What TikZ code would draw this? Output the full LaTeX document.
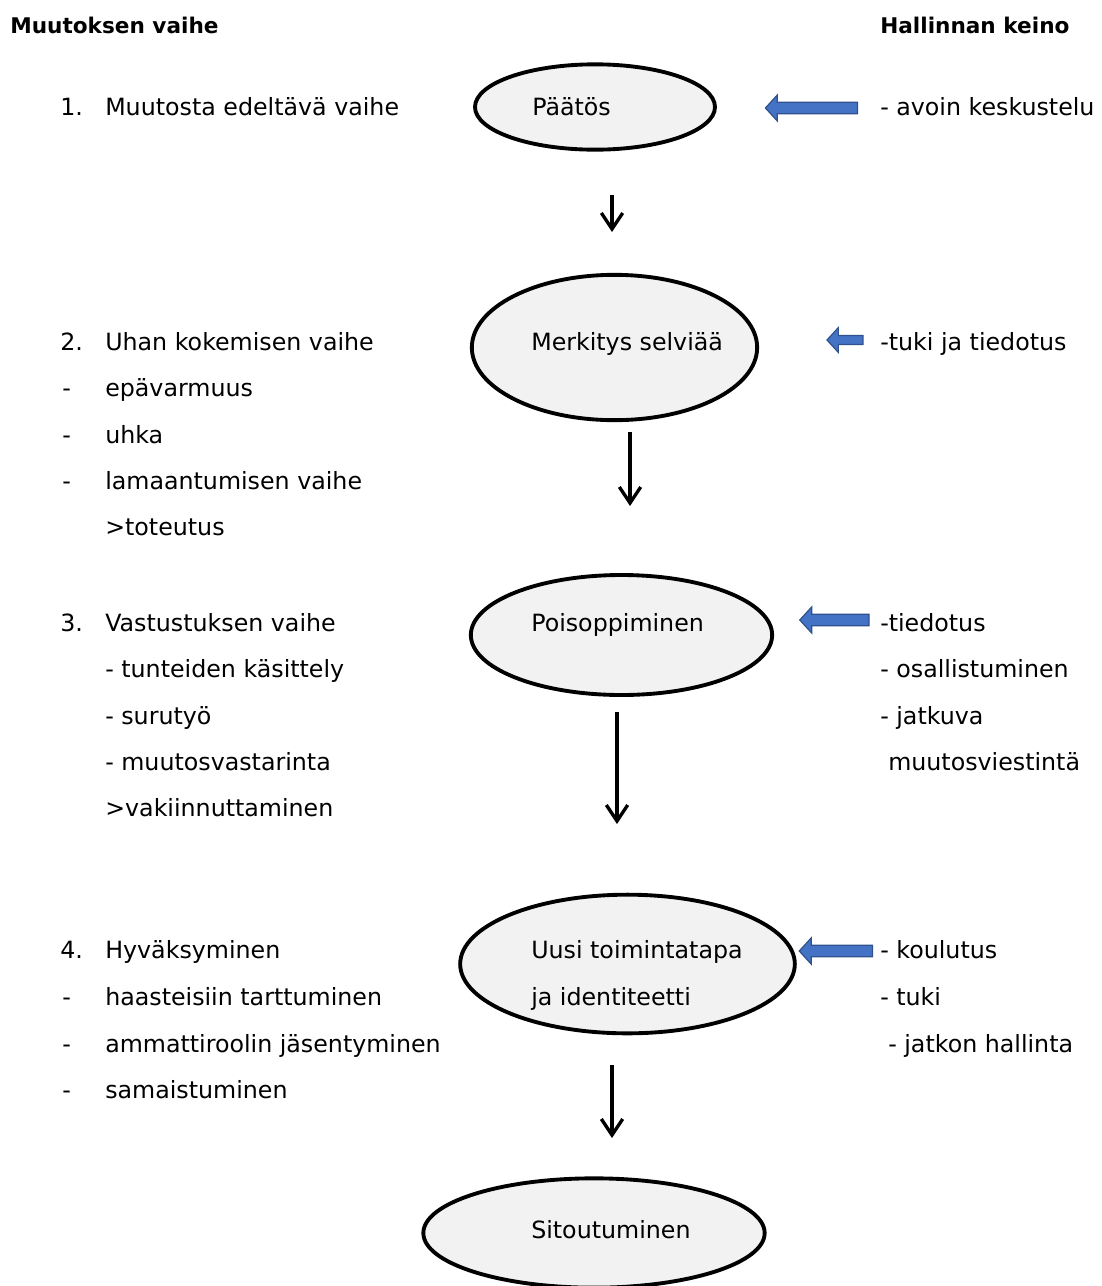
\documentclass[tikz,border=0pt]{standalone}
\usepackage{fontspec}
\setmainfont{DejaVu Sans}
\usetikzlibrary{shapes,arrows.meta,positioning}
\definecolor{arrowblue}{RGB}{68,114,196}
\definecolor{arrowedge}{RGB}{47,82,143}
\definecolor{stagegray}{RGB}{242,242,242}

\tikzset{
  stage/.style={draw, ellipse, line width=2.9pt, fill=stagegray, inner sep=0pt},
  txt/.style={anchor=base west, inner sep=0pt, font=\fontsize{17.8pt}{20pt}\selectfont},
  head/.style={anchor=base west, inner sep=0pt, font=\fontsize{16.2pt}{19pt}\selectfont\bfseries},
  flow/.style={line width=2.5pt, -{Straight Barb[length=12pt,width=16pt,line width=2.5pt]}},
  push/.style={single arrow, shape border rotate=180, draw=arrowedge, fill=arrowblue, line width=0.9pt,
    inner xsep=0pt, inner ysep=3.8pt, single arrow head extend=5.5pt, single arrow tip angle=95}
}

\begin{document}
\begin{tikzpicture}[x=0.75pt, y=-0.75pt]
    \useasboundingbox (0,0) rectangle (1102,1286);

    % headings
    \node[head] (hleft) at (10,33) {Muutoksen vaihe};
    \node[head] (hright) at (880,33) {Hallinnan keino};

    % ellipses
    \node[stage, minimum width=180pt, minimum height=64pt] (paatos) at (595,107) {};
    \node[stage, minimum width=214pt, minimum height=109pt] (merkitys) at (614.5,347.5) {};
    \node[stage, minimum width=226pt, minimum height=90pt] (poisopp) at (621.5,635) {};
    \node[stage, minimum width=251pt, minimum height=104pt] (uusi) at (627.5,964) {};
    \node[stage, minimum width=256pt, minimum height=82pt] (sitout) at (594,1233) {};

    \node[txt] (tpaatos) at (532,115) {Päätös};
    \node[txt] (tmerkitys) at (531,350) {Merkitys selviää};
    \node[txt] (tpoisopp) at (531,631) {Poisoppiminen};
    \node[txt] (tuusi) at (531,958) {Uusi toimintatapa};
    \node[txt] (tuusi2) at (531,1005) {ja identiteetti};
    \node[txt] (tsitout) at (531,1238) {Sitoutuminen};

    % flow arrows
    \coordinate (f1a) at (612,195); \coordinate (f1b) at (612,232);
    \coordinate (f2a) at (630,432); \coordinate (f2b) at (630,506);
    \coordinate (f3a) at (617,712); \coordinate (f3b) at (617,824);
    \coordinate (f4a) at (612,1065); \coordinate (f4b) at (612,1138);
    \draw[flow] (f1a) -- (f1b);
    \draw[flow] (f2a) -- (f2b);
    \draw[flow] (f3a) -- (f3b);
    \draw[flow] (f4a) -- (f4b);

    % blue arrows
    \node[push, minimum height=69pt] (p1) at (814,108) {};
    \node[push, minimum height=27pt, inner ysep=2.9pt, single arrow head extend=6pt] (p2) at (847,340) {};
    \node[push, minimum height=52pt] (p3) at (837,620) {};
    \node[push, minimum height=55pt] (p4) at (838.5,951) {};

    % left column
    \node[txt] (n1) at (60,115) {1.};
    \node[txt] (s1) at (105,115) {Muutosta edeltävä vaihe};

    \node[txt] (n2) at (60,350) {2.};
    \node[txt] (s2) at (105,350) {Uhan kokemisen vaihe};
    \node[txt] (d21) at (62,396) {-};
    \node[txt] (s21) at (105,396) {epävarmuus};
    \node[txt] (d22) at (62,443) {-};
    \node[txt] (s22) at (105,443) {uhka};
    \node[txt] (d23) at (62,489) {-};
    \node[txt] (s23) at (105,489) {lamaantumisen vaihe};
    \node[txt] (s24) at (105,535) {>toteutus};

    \node[txt] (n3) at (60,631) {3.};
    \node[txt] (s3) at (105,631) {Vastustuksen vaihe};
    \node[txt] (s31) at (105,677) {- tunteiden käsittely};
    \node[txt] (s32) at (105,724) {- surutyö};
    \node[txt] (s33) at (105,770) {- muutosvastarinta};
    \node[txt] (s34) at (105,816) {>vakiinnuttaminen};

    \node[txt] (n4) at (60,958) {4.};
    \node[txt] (s4) at (105,958) {Hyväksyminen};
    \node[txt] (d41) at (62,1005) {-};
    \node[txt] (s41) at (105,1005) {haasteisiin tarttuminen};
    \node[txt] (d42) at (62,1052) {-};
    \node[txt] (s42) at (105,1052) {ammattiroolin jäsentyminen};
    \node[txt] (d43) at (62,1098) {-};
    \node[txt] (s43) at (105,1098) {samaistuminen};

    % right column
    \node[txt] (k1) at (880,115) {- avoin keskustelu};
    \node[txt] (k2) at (880,350) {-tuki ja tiedotus};
    \node[txt] (k31) at (880,631) {-tiedotus};
    \node[txt] (k32) at (880,677) {- osallistuminen};
    \node[txt] (k33) at (880,724) {- jatkuva};
    \node[txt] (k34) at (888,770) {muutosviestintä};
    \node[txt] (k41) at (880,958) {- koulutus};
    \node[txt] (k42) at (880,1005) {- tuki};
    \node[txt] (k43) at (888,1052) {- jatkon hallinta};
\end{tikzpicture}
\end{document}
